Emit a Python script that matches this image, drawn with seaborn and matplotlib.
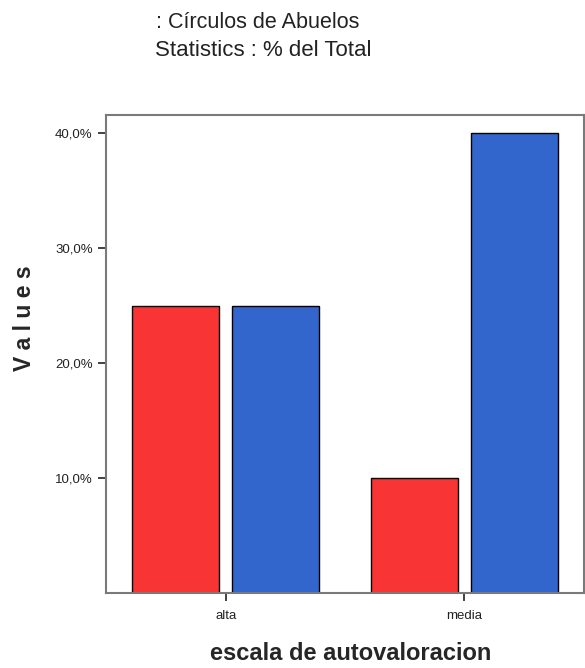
import pandas as pd
import seaborn as sns
import matplotlib.pyplot as plt
from matplotlib.ticker import FuncFormatter

# Datos
categorias = ["alta", "media"]
grupos = ["grupo 1", "grupo 2"]
valores_grupo1 = [25.0, 10.0]
valores_grupo2 = [25.0, 40.0]
colores = ["#F83434", "#3366CC"]

df = pd.DataFrame({
    "escala": categorias * 2,
    "grupo": [grupos[0]] * 2 + [grupos[1]] * 2,
    "valor": valores_grupo1 + valores_grupo2,
})

sns.set_style("white")
plt.rcParams["font.family"] = ["Liberation Sans", "DejaVu Sans"]

fig = plt.figure(figsize=(5.85, 6.68), dpi=100)
ax = fig.add_axes([106 / 585, 75 / 668, 478 / 585, 478 / 668])

sns.barplot(
    data=df, x="escala", y="valor", hue="grupo",
    palette=colores, width=0.84, gap=0.13,
    edgecolor="black", linewidth=1.0, saturation=1, legend=False, ax=ax
)

ax.set_xlim(-0.504, 1.504)
ax.set_ylim(0, 41.6)
ax.set_yticks([10, 20, 30, 40])
ax.yaxis.set_major_formatter(FuncFormatter(lambda v, p: f"{v:.1f}%".replace(".", ",")))
ax.tick_params(axis="both", direction="out", length=6, width=1.3, color="#333333",
               left=True, bottom=True, labelsize=9.5, labelcolor="#222222")
ax.tick_params(axis="x", pad=6)

for s in ax.spines.values():
    s.set_visible(True)
    s.set_color("#7a7a7a")
    s.set_linewidth(1.5)

ax.set_xlabel("")
ax.set_ylabel("")

fig.text(25 / 585, 1 - 318 / 668, "V a l u e s", rotation=90, ha="center", va="center",
         fontsize=16.5, fontweight="bold")
fig.text(351 / 585, 1 - 654 / 668, "escala de autovaloracion", ha="center", va="center",
         fontsize=17, fontweight="bold")

fig.text(156 / 585, 1 - 22 / 668, ": Círculos de Abuelos", ha="left", va="center",
         fontsize=15.5, color="#222222")
fig.text(155 / 585, 1 - 50 / 668, "Statistics : % del Total", ha="left", va="center",
         fontsize=16, color="#222222")

fig.savefig("out.png", dpi=100)
